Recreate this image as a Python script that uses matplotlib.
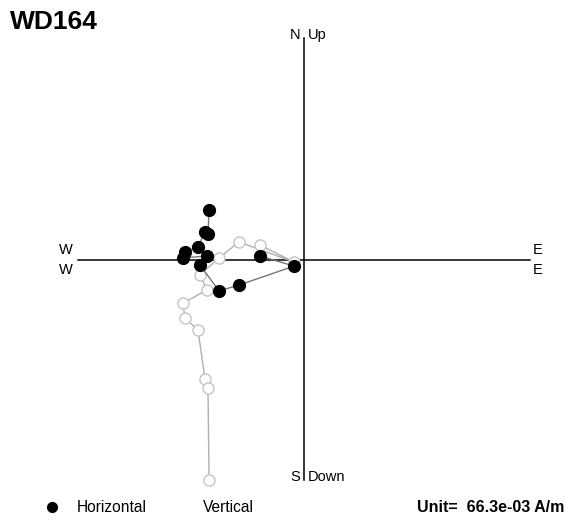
import matplotlib
matplotlib.use("Agg")
import matplotlib.pyplot as plt

plt.rcParams['font.family'] = ['Liberation Sans', 'DejaVu Sans']

# 正交投影数据（单位：轴半长 = 1）
east = [-0.195, -0.044, -0.288, -0.376, -0.460, -0.429, -0.535, -0.527, -0.469, -0.438, -0.425, -0.420]
north = [0.018, -0.027, -0.111, -0.137, -0.022, 0.018, 0.009, 0.035, 0.058, 0.124, 0.115, 0.221]
up = [0.066, -0.009, 0.080, 0.009, -0.066, -0.133, -0.190, -0.257, -0.310, -0.527, -0.566, -0.973]

title = "WD164"
unit_text = "Unit=  66.3e-03 A/m"

W, H = 566, 520
s = 226.0   # 每单位像素数
cx, cy = 304, 260

fig = plt.figure(figsize=(W / 100, H / 100), dpi=100)
ax = fig.add_axes([0, 0, 1, 1])
ax.set_xlim(-cx / s, (W - cx) / s)
ax.set_ylim(-(H - cy) / s, cy / s)
ax.axis("off")

# 坐标轴
ax.plot([-1.0, 1.0], [0, 0], color="black", lw=1.1, zorder=1)
ax.plot([0, 0], [0.982, -0.973], color="black", lw=1.1, zorder=1)

# 垂直投影 (空心)
ax.plot(east, up, color="#b0b0b0", lw=1.0, zorder=2)
ax.plot(east, up, "o", ms=8, mfc="white", mec="#c4c4c4", mew=1.0, ls="none", zorder=3)

# 水平投影 (实心)
ax.plot(east, north, color="#777777", lw=1.0, zorder=4)
ax.plot(east, north, "o", ms=8.5, color="black", ls="none", zorder=5)

fs = 10.5
ax.text(-0.016, 0.995, "N", ha="right", va="center", fontsize=fs)
ax.text(0.016, 0.995, "Up", ha="left", va="center", fontsize=fs)
ax.text(-0.016, -0.960, "S", ha="right", va="center", fontsize=fs)
ax.text(0.016, -0.960, "Down", ha="left", va="center", fontsize=fs)
ax.text(-1.055, 0.044, "W", ha="center", va="center", fontsize=fs)
ax.text(-1.055, -0.044, "W", ha="center", va="center", fontsize=fs)
ax.text(1.035, 0.044, "E", ha="center", va="center", fontsize=fs)
ax.text(1.035, -0.044, "E", ha="center", va="center", fontsize=fs)

fig.text(10 / W, 1 - 22 / H, title, fontsize=19, fontweight="bold", ha="left", va="center")

# 图例
yl = 1 - 507 / H
fig.lines.append(plt.Line2D([52 / W], [yl], marker="o", ms=7, color="black", transform=fig.transFigure))
fig.text(77 / W, yl, "Horizontal", fontsize=11.2, ha="left", va="center")
fig.text(203 / W, yl, "Vertical", fontsize=11.2, ha="left", va="center")
fig.text(564 / W, yl, unit_text, fontsize=11.5, fontweight="bold", ha="right", va="center")

fig.savefig("out.png", dpi=100, facecolor="white")
